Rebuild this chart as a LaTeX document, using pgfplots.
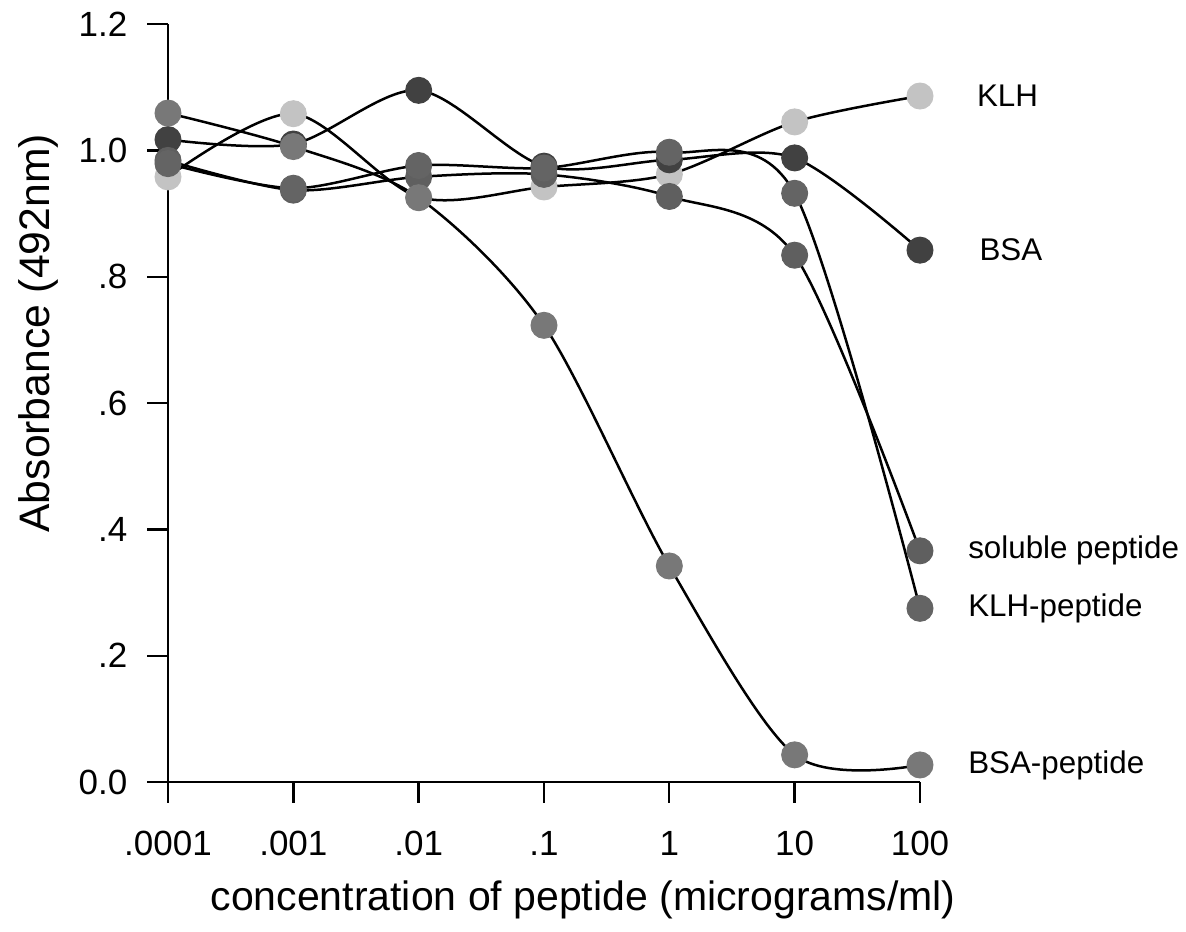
\documentclass[border=0pt]{standalone}
\usepackage{fontspec}
\setmainfont{Liberation Sans}
\usepackage{pgfplots}
\pgfplotsset{compat=1.18}
\usepackage{pgfplotstable}

% absorbance; x = log10(conc) + 4
\pgfplotstableread{
x  klh    bsa    sol    klhp   bsap
0  0.958  1.017  0.984  0.979  1.059
1  1.058  1.010  0.937  0.940  1.006
2  0.926  1.095  0.958  0.976  0.925
3  0.942  0.975  0.962  0.972  0.723
4  0.962  0.985  0.927  0.997  0.342
5  1.045  0.988  0.834  0.932  0.043
6  1.086  0.842  0.366  0.275  0.027
}\absdata

\definecolor{cKLH}{RGB}{195,195,195}
\definecolor{cBSA}{RGB}{65,65,65}
\definecolor{cSol}{RGB}{95,95,95}
\definecolor{cKLHp}{RGB}{100,100,100}
\definecolor{cBSAp}{RGB}{120,120,120}

\pgfplotsset{
  curve/.style={smooth, tension=0.5, black, line width=0.75pt,
    mark=*, mark size=3.9pt, mark options={draw=#1, fill=#1, line width=0.3pt}},
}

\begin{document}
\begin{tikzpicture}
\begin{axis}[
  at={(0,0)}, anchor=south west,
  scale only axis, width=225.6pt, height=227.4pt,
  xmin=0, xmax=6, ymin=0, ymax=1.2,
  axis lines=left, axis line style={-, line width=0.7pt},
  clip=false,
  set layers, mark layer=axis foreground,
  tick align=outside, major tick length=6.2pt,
  tick style={black, line width=0.7pt},
  xtick={0,1,2,3,4,5,6},
  xticklabels={.0001,.001,.01,.1,1,10,100},
  ytick={0,0.2,0.4,0.6,0.8,1.0,1.2},
  yticklabels={0.0,.2,.4,.6,.8,1.0,1.2},
  tick label style={font=\fontsize{10.5}{12}\selectfont},
  xticklabel style={yshift=-5pt},
  yticklabel style={xshift=-2.5pt},
  xlabel={concentration of peptide (micrograms/ml)},
  ylabel={Absorbance (492nm)},
  xlabel style={at={(axis description cs:0.552,0)}, anchor=center, yshift=-35.3pt,
    font=\fontsize{12.3}{14}\selectfont},
  ylabel style={at={(axis description cs:0,0.592)}, anchor=center, yshift=39pt,
    font=\fontsize{12.8}{14}\selectfont},
]
\addplot[curve=cKLH]  table[x=x, y=klh]  {\absdata};
\addplot[curve=cBSA]  table[x=x, y=bsa]  {\absdata};
\addplot[curve=cSol]  table[x=x, y=sol]  {\absdata};
\addplot[curve=cKLHp] table[x=x, y=klhp] {\absdata};
\addplot[curve=cBSAp] table[x=x, y=bsap] {\absdata};

\begin{scope}[every node/.style={anchor=west, inner sep=0pt, font=\fontsize{9.4}{11}\selectfont}]
\node at (axis cs:6.45,1.086) {KLH};
\node at (axis cs:6.47,0.842) {BSA};
\node at (axis cs:6.38,0.366) {soluble peptide};
\node at (axis cs:6.38,0.275) {KLH-peptide};
\node at (axis cs:6.38,0.027) {BSA-peptide};
\end{scope}
\end{axis}
\path (-50.4pt,-44.7pt) rectangle (305.4pt,234.6pt);
\end{tikzpicture}
\end{document}
